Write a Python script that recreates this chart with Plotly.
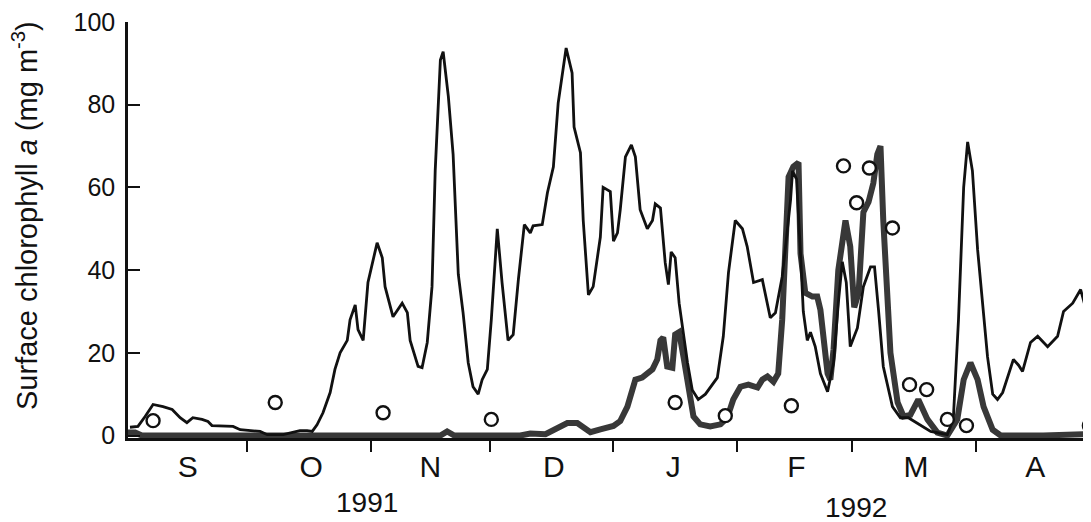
import pandas as pd
import plotly.graph_objects as go

# Days since 1991-09-01 and surface chlorophyll a (mg m-3)
thin_days = [0.5, 2.5, 4.3, 6.3, 8.8, 11.1, 13.1, 14.8, 16.3, 18.6, 20.1, 21.1, 26.4, 28.2,
             33.2, 35.0, 39.0, 41.2, 43.2, 45.0, 46.3, 47.5, 49.0, 50.8, 52.0, 53.3, 55.1,
             55.8, 57.1, 57.8, 59.1, 60.3, 62.6, 63.9, 64.6, 66.6, 68.9, 70.2, 70.9, 72.9,
             73.9, 75.2, 76.4, 77.2, 78.5, 79.2, 80.5, 81.7, 83.0, 84.2, 85.5, 86.7, 88.0,
             89.0, 90.3, 91.3, 92.8, 94.0, 95.5, 96.8, 98.1, 99.6, 101.1, 101.8, 104.1,
             105.4, 106.9, 108.1, 110.1, 111.6, 112.1, 113.7, 114.4, 115.7, 116.9, 118.7,
             119.4, 121.2, 122.0, 123.0, 123.7, 125.0, 126.5, 127.5, 128.7, 130.5, 131.8,
             132.5, 133.8, 135.0, 135.8, 136.5, 137.5, 138.5, 139.6, 140.6, 141.8, 143.3,
             145.1, 146.3, 148.1, 149.6, 150.9, 152.6, 154.4, 155.6, 157.2, 159.4, 161.4,
             162.7, 164.4, 165.5, 166.5, 167.0, 168.0, 169.0, 169.7, 170.7, 171.5, 172.7,
             174.0, 175.8, 177.3, 178.5, 179.5, 180.5, 181.5, 183.3, 184.8, 186.6, 187.6,
             188.6, 189.8, 192.1, 194.1, 196.1, 201.7, 205.9, 207.4, 208.7, 210.0, 211.0,
             212.2, 213.5, 215.0, 216.0, 217.3, 218.5, 219.8, 221.0, 222.5, 223.8, 224.8,
             226.8, 228.6, 231.1, 233.6, 235.1, 237.4, 239.4, 240.6, 241.4, 242.1]
thin_chl = [2.0, 2.2, 4.6, 7.5, 7.0, 6.3, 4.3, 3.1, 4.3, 3.9, 3.4, 2.4, 2.2, 1.4,
            1.0, 0.2, 0.2, 0.7, 1.2, 1.2, 1.0, 2.6, 5.5, 10.4, 16.0, 20.0, 23.0,
            28.0, 31.6, 25.6, 23.0, 37.0, 46.6, 43.0, 36.0, 28.7, 32.0, 29.7, 23.0, 16.7,
            16.4, 22.5, 36.0, 64.0, 90.8, 92.8, 82.0, 68.0, 39.0, 29.7, 17.6, 11.8, 10.0,
            13.5, 16.0, 28.0, 50.0, 37.0, 23.0, 24.4, 37.7, 51.0, 49.0, 50.7, 51.0,
            58.7, 65.0, 80.4, 93.7, 87.7, 74.6, 68.4, 52.0, 34.0, 36.0, 48.0,
            60.0, 59.0, 47.0, 49.0, 54.6, 67.4, 70.3, 67.4, 54.6, 50.0, 52.0,
            56.0, 55.0, 41.8, 36.5, 44.4, 43.0, 32.0, 24.0, 17.6, 11.0, 8.7,
            10.0, 11.6, 14.0, 24.0, 39.4, 52.0, 50.0, 45.7, 37.0, 37.7, 28.5,
            29.7, 38.4, 48.0, 57.0, 64.0, 62.0, 44.0, 30.0, 23.0, 25.0, 21.5,
            15.0, 10.6, 17.6, 32.0, 42.0, 37.0, 21.5, 26.0, 36.0, 40.8, 40.8,
            30.4, 16.7, 7.0, 4.3, 4.3, 1.0, 0.2, 4.0, 28.0, 60.0, 71.0,
            64.0, 45.0, 30.4, 19.0, 10.0, 8.7, 10.4, 14.0, 18.4, 17.0, 15.5,
            22.5, 24.0, 21.5, 24.0, 30.0, 32.0, 35.3, 31.0, 21.5, 17.6]

thick_days = [0.0, 1.8, 3.5, 18.1, 43.2, 78.5, 80.2, 82.0, 98.6, 101.1, 104.9, 107.9,
              110.4, 112.9, 116.2, 118.7, 122.0, 123.7, 125.5, 127.5, 129.2, 131.8, 133.0,
              133.8, 134.5, 135.5, 136.8, 137.5, 138.5, 139.6, 140.8, 142.1, 143.8, 146.3,
              148.9, 150.6, 152.1, 153.9, 155.9, 158.2, 159.4, 160.7, 162.2, 163.4, 164.4,
              165.2, 166.0, 167.2, 168.5, 169.0, 170.2, 172.0, 173.2, 174.0, 175.8, 176.5,
              177.3, 178.5, 180.3, 181.5, 182.5, 183.6, 184.8, 186.1, 187.3, 188.3, 189.1,
              189.8, 191.6, 193.4, 194.9, 196.6, 198.6, 200.9, 203.4, 205.9, 208.4, 210.0,
              211.7, 213.5, 215.0, 217.3, 219.3, 230.0, 242.1]
thick_chl = [0.7, 0.7, 0.0, 0.0, 0.3, 0.0, 1.0, 0.0, 0.0, 0.5, 0.3, 2.0,
             3.0, 3.0, 0.8, 1.5, 2.3, 3.5, 7.0, 13.5, 14.0, 16.0, 18.4,
             23.0, 23.7, 16.7, 16.4, 24.4, 25.0, 19.0, 11.0, 4.6, 2.7, 2.2,
             2.7, 4.3, 8.7, 11.8, 12.3, 11.6, 13.5, 14.3, 13.0, 15.0, 28.0,
             48.0, 62.5, 65.0, 66.0, 44.0, 34.5, 33.6, 33.6, 30.4, 15.0, 13.5,
             20.8, 40.0, 52.0, 45.7, 31.0, 34.5, 54.0, 56.5, 61.0, 68.0, 70.0,
             52.0, 20.0, 8.0, 4.6, 5.0, 8.7, 3.9, 0.7, 0.0, 3.9, 13.5,
             17.6, 13.5, 7.0, 1.4, 0.0, 0.0, 0.4]

circle_days = [6.3, 37.0, 64.1, 91.3, 137.5, 150.1, 166.7, 179.8, 183.1, 186.3, 192.1,
               196.4, 200.7, 205.9, 210.7, 241.6]
circle_chl = [3.6, 8.0, 5.5, 3.9, 8.0, 4.8, 7.2, 65.2, 56.3, 64.7, 50.2,
              12.3, 11.1, 3.9, 2.4, 2.4]

month_labels = ["S", "O", "N", "D", "J", "F", "M", "A"]
month_mid = ["1991-09-16", "1991-10-17", "1991-11-16", "1991-12-17",
             "1992-01-16", "1992-02-16", "1992-03-17", "1992-04-16"]
month_starts = ["1991-10-01", "1991-11-01", "1991-12-01", "1992-01-01",
                "1992-02-01", "1992-03-01", "1992-04-01"]
y_ticks = [0, 20, 40, 60, 80, 100]

base = pd.Timestamp("1991-09-01")
def to_dates(days):
    return base + pd.to_timedelta(days, unit="D")

fig = go.Figure()
fig.add_trace(go.Scatter(x=to_dates(thick_days), y=thick_chl, mode="lines",
                         line=dict(color="#383838", width=6), hoverinfo="skip"))
fig.add_trace(go.Scatter(x=to_dates(thin_days), y=thin_chl, mode="lines",
                         line=dict(color="#111111", width=2.8), hoverinfo="skip"))
fig.add_trace(go.Scatter(x=to_dates(circle_days), y=circle_chl, mode="markers",
                         marker=dict(symbol="circle", size=13, color="white",
                                     line=dict(color="#111111", width=2.4)),
                         hoverinfo="skip"))

font_family = "Liberation Sans, Arial, Helvetica, sans-serif"

# The page body adds an 8px margin; the figure is sized to fit the window.
fig.update_layout(
    width=1083, height=514,
    margin=dict(l=120, r=0, t=14, b=84),
    paper_bgcolor="white", plot_bgcolor="white",
    showlegend=False,
    font=dict(family=font_family, color="#111111"),
    xaxis=dict(
        type="date", range=["1991-09-01", "1992-04-30"],
        showgrid=False, zeroline=False,
        showline=True, linecolor="#111111", linewidth=2.5,
        tickmode="array", tickvals=month_mid, ticktext=month_labels,
        ticks="", tickfont=dict(size=30, family=font_family, color="#111111"),
        ticklabelstandoff=0, ticklabeloverflow="allow",
        minor=dict(tickmode="array", tickvals=month_starts, ticks="outside",
                   ticklen=11, tickwidth=2, tickcolor="#111111", showgrid=False),
    ),
    yaxis=dict(
        range=[-0.6, 100], showgrid=False, zeroline=False,
        showline=True, linecolor="#111111", linewidth=2.5,
        tickmode="array", tickvals=y_ticks,
        ticks="inside", ticklen=12, tickwidth=2, tickcolor="#111111",
        tickfont=dict(size=25, family=font_family, color="#111111"),
        ticklabelstandoff=5, ticklabeloverflow="allow",
    ),
    annotations=[
        dict(text="1991", x="1991-10-31", xref="x", y=-0.156, yref="paper",
             showarrow=False, xanchor="center", yanchor="middle",
             font=dict(size=28, family=font_family, color="#111111")),
        dict(text="1992", x="1992-03-02", xref="x", y=-0.166, yref="paper",
             showarrow=False, xanchor="center", yanchor="middle",
             font=dict(size=28, family=font_family, color="#111111")),
        dict(text="Surface chlorophyll <i>a</i> (mg m<sup>-3</sup>)",
             x=-0.107, xref="paper", y=0.536, yref="paper", textangle=-90,
             showarrow=False, xanchor="center", yanchor="middle",
             font=dict(size=29, family=font_family, color="#111111")),
    ],
)

fig.write_html("out.html")
